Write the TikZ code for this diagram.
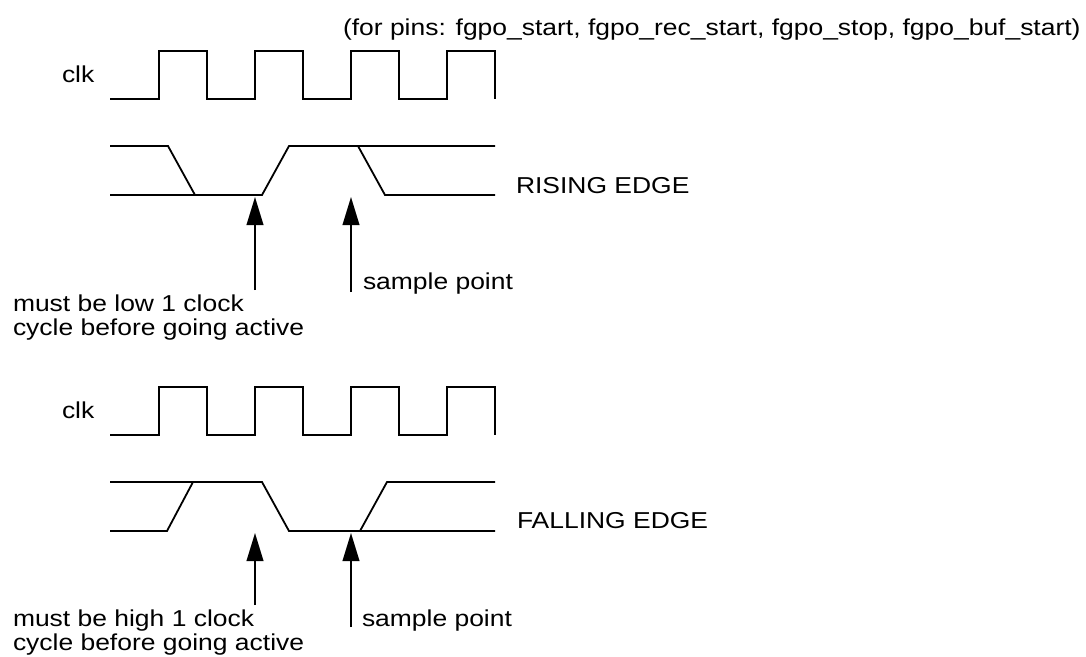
\documentclass[tikz,border=0pt]{standalone}
\usepackage{fontspec}
\setmainfont{Liberation Sans}[FakeStretch=1.15]
\usetikzlibrary{arrows.meta}
\begin{document}
\begin{tikzpicture}[x=0.75pt,y=-0.75pt,
  wave/.style={line width=1.35pt, line join=miter, draw=black},
  lbl/.style={inner sep=0pt, outer sep=0pt, font=\fontsize{17.25pt}{18.4pt}\selectfont, anchor=base west},
  mlbl/.style={inner sep=0pt, outer sep=0pt, font=\fontsize{17.25pt}{18.4pt}\selectfont, anchor=north west, align=left},
  ptr/.style={line width=1.35pt, draw=black, -{Triangle[length=21pt,width=12.5pt]}}]
\useasboundingbox (0,0) rectangle (1086,657);

\node[lbl] (title) at (343,35) {(for pins: fgpo\_start, fgpo\_rec\_start, fgpo\_stop, fgpo\_buf\_start)};

% ---------- rising edge ----------
\node[lbl] (clkA) at (62,82) {clk};
\draw[wave] (110,99) -- (159,99) -- (159,50.7) -- (207,50.7) -- (207,99) -- (255,99) -- (255,50.7) -- (303,50.7) -- (303,99) -- (351,99) -- (351,50.7) -- (399,50.7) -- (399,99) -- (447,99) -- (447,50.7) -- (495,50.7) -- (495,99);
\draw[wave] (110,146) -- (168,146) -- (195,195);
\draw[wave] (110,195) -- (262,195) -- (289,146) -- (495,146);
\draw[wave] (358,146) -- (385,195) -- (495,195);
\node[lbl] (rise) at (516,193) {RISING EDGE};

\coordinate (a1s) at (255,290);
\coordinate (a1e) at (255,197);
\coordinate (a2s) at (351,292);
\coordinate (a2e) at (351,197);
\draw[ptr] (a1s) -- (a1e);
\draw[ptr] (a2s) -- (a2e);
\node[mlbl] (low) at (13,294.5) {must be low 1 clock\\cycle before going active};
\node[lbl] (sp1) at (363,289) {sample point};

% ---------- falling edge ----------
\node[lbl] (clkB) at (62,418) {clk};
\draw[wave] (110,435) -- (159,435) -- (159,386.7) -- (207,386.7) -- (207,435) -- (255,435) -- (255,386.7) -- (303,386.7) -- (303,435) -- (351,435) -- (351,386.7) -- (399,386.7) -- (399,435) -- (447,435) -- (447,386.7) -- (495,386.7) -- (495,435);
\draw[wave] (110,482) -- (262,482) -- (289,531) -- (495,531);
\draw[wave] (110,531) -- (167,531) -- (193,482);
\draw[wave] (360,531) -- (387,482) -- (495,482);
\node[lbl] (fall) at (517,528) {FALLING EDGE};

\coordinate (b1s) at (255,605);
\coordinate (b1e) at (255,533);
\coordinate (b2s) at (351,627);
\coordinate (b2e) at (351,533);
\draw[ptr] (b1s) -- (b1e);
\draw[ptr] (b2s) -- (b2e);
\node[mlbl] (high) at (13,609.5) {must be high 1 clock\\cycle before going active};
\node[lbl] (sp2) at (362,626) {sample point};
\end{tikzpicture}
\end{document}
